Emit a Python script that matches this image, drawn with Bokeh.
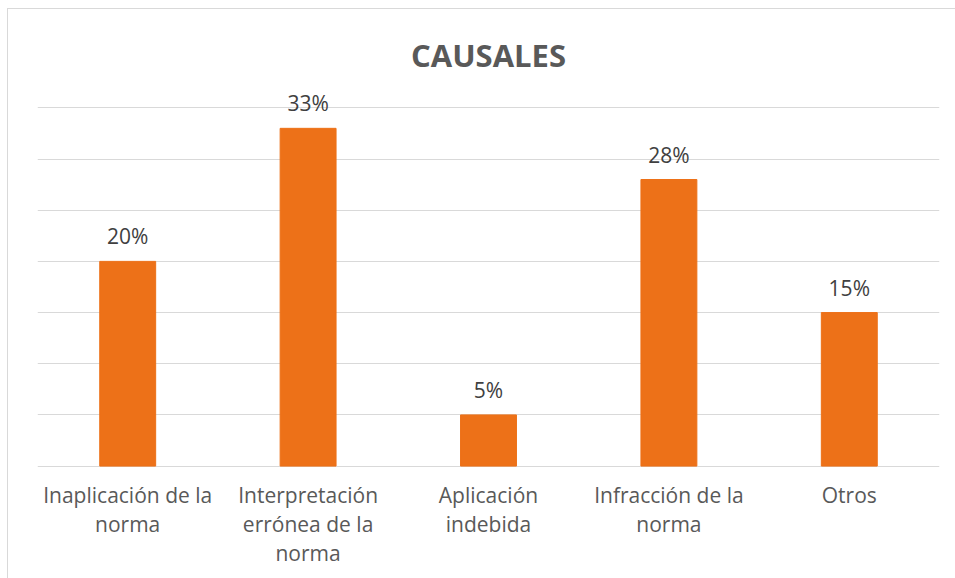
from bokeh.plotting import figure
from bokeh.models import ColumnDataSource, FixedTicker
from bokeh.core.properties import value
from bokeh.embed import file_html
from bokeh.resources import INLINE

categories = ["Inaplicación de la norma", "Interpretación errónea de la norma",
              "Aplicación indebida", "Infracción de la norma", "Otros"]
tick_labels = ["Inaplicación de la\nnorma", "Interpretación\nerrónea de la\nnorma",
               "Aplicación\nindebida", "Infracción de la\nnorma", "Otros"]
values = [20, 33, 5, 28, 15]
value_labels = ["20%", "33%", "5%", "28%", "15%"]
grid_ticks = [0, 5, 10, 15, 20, 25, 30, 35]
title_text = "CAUSALES"

FONT = "Open Sans"

src = ColumnDataSource(dict(cat=categories, val=values, lab=value_labels,
                            tick=tick_labels, zero=[0] * len(values)))

p = figure(x_range=categories, y_range=(-11.08, 44.61), width=948, height=570,
           output_backend="svg", toolbar_location=None,
           min_border_left=29, min_border_right=17, min_border_top=0,
           min_border_bottom=0)
p.styles = {"border-top": "1px solid #d9d9d9", "border-left": "1px solid #d9d9d9",
            "margin-left": "7px", "margin-top": "8px"}

p.vbar(x="cat", top="val", width=0.31, source=src, color="#ED7118")

# data labels
p.text(x="cat", y="val", text="lab", source=src, text_align="center",
       text_baseline="bottom", y_offset=-11, text_font_size="21px",
       text_color="#404040", text_font=value(FONT))

# category labels
p.text(x="cat", y="zero", text="tick", source=src, text_align="center",
       text_baseline="top", y_offset=15, text_font_size="21px",
       text_color="#595959", text_font=value(FONT), text_line_height=1.03)

# title
tsrc = ColumnDataSource(dict(x=[len(categories) / 2], y=[40.2], t=[title_text]))
p.text(x="x", y="y", text="t", source=tsrc, text_align="center",
       text_baseline="alphabetic", text_font_size="31px", text_font_style="bold",
       text_color="#595959", text_font=value(FONT))

p.xaxis.visible = False
p.yaxis.visible = False
p.ygrid.ticker = FixedTicker(ticks=grid_ticks)
p.ygrid.grid_line_color = "#d9d9d9"
p.ygrid.grid_line_width = 1
p.xgrid.visible = False

p.outline_line_color = None
p.background_fill_color = "white"
p.border_fill_color = "white"

open("out.html", "w").write(file_html(p, INLINE))
